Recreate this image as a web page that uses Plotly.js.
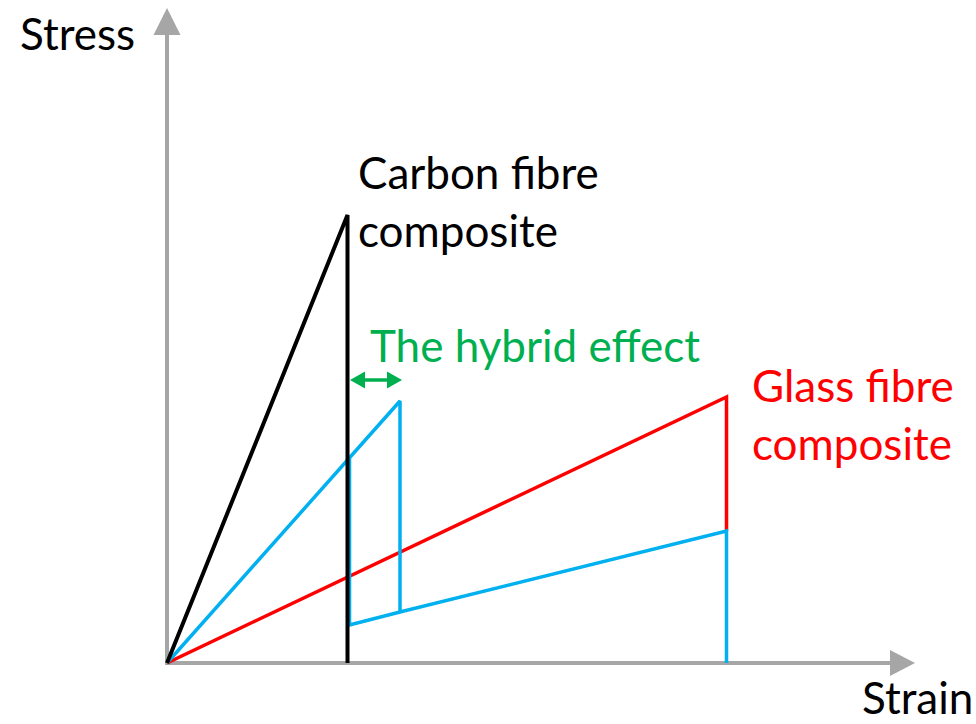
<!DOCTYPE html>
<html>
<head>
<meta charset="utf-8">
<script src="https://cdn.plot.ly/plotly-3.0.1.min.js"></script>
<style>html,body{margin:0;padding:0;background:#fff;}#chart{width:976px;height:724px;}</style>
</head>
<body>
<div id="chart"></div>
<script>
// Schematic stress-strain data (arbitrary units)
var carbonStrain = [0, 1.805, 1.805];
var carbonStress = [0, 4.48, 0];

var glassStrain = [0, 5.595, 5.595];
var glassStress = [0, 2.66, 1.32];

var hybridStrain = [0, 2.33, 2.33, 5.595, 5.595];
var hybridStress = [0, 2.62, 0.51, 1.32, 0];

var hybridRefStrain = [1.825, 1.825, 2.33];
var hybridRefStress = [2.05, 0.38, 0.51];

var labels = {
  yTitle: "Stress",
  xTitle: "Strain",
  carbon: ["Carbon fibre", "composite"],
  glass: ["Glass fibre", "composite"],
  hybrid: "The hybrid effect"
};

var FONT = "Lato, 'Open Sans', sans-serif";
var GRAY = "#A6A6A6";
var BLUE = "#00B0F0";
var RED = "#FF0000";
var GREEN = "#00B050";

var traces = [
  {x: glassStrain, y: glassStress, mode: "lines", line: {color: RED, width: 3.5}, hoverinfo: "skip"},
  {x: hybridStrain, y: hybridStress, mode: "lines", line: {color: BLUE, width: 3.5}, hoverinfo: "skip"},
  {x: hybridRefStrain, y: hybridRefStress, mode: "lines", line: {color: BLUE, width: 3.5}, hoverinfo: "skip"},
  {x: carbonStrain, y: carbonStress, mode: "lines", line: {color: "#000000", width: 4}, hoverinfo: "skip"}
];

function txt(t, x, y, color) {
  return {text: t, x: x, y: y, xref: "x", yref: "y", xanchor: "left", yanchor: "middle",
          showarrow: false, font: {family: FONT, size: 44, color: color}};
}

var layout = {
  width: 976, height: 724,
  margin: {l: 0, r: 0, t: 0, b: 0},
  paper_bgcolor: "#ffffff", plot_bgcolor: "#ffffff",
  showlegend: false,
  xaxis: {range: [-1.67, 8.09], visible: false, fixedrange: true},
  yaxis: {range: [-0.61, 6.63], visible: false, fixedrange: true},
  shapes: [
    {type: "line", xref: "x", yref: "y", x0: 0, y0: -0.02, x1: 0, y1: 6.29, line: {color: GRAY, width: 4}, layer: "below"},
    {type: "path", xref: "x", yref: "y", path: "M -0.135,6.28 L 0.135,6.28 L 0,6.55 Z", fillcolor: GRAY, line: {width: 0}, layer: "below"},
    {type: "line", xref: "x", yref: "y", x0: -0.02, y0: 0, x1: 7.24, y1: 0, line: {color: GRAY, width: 4}, layer: "below"},
    {type: "path", xref: "x", yref: "y", path: "M 7.23,-0.13 L 7.23,0.13 L 7.48,0 Z", fillcolor: GRAY, line: {width: 0}, layer: "below"},
    // green double arrow (hybrid effect)
    {type: "line", xref: "x", yref: "y", x0: 1.94, y0: 2.83, x1: 2.23, y1: 2.83, line: {color: GREEN, width: 3.5}},
    {type: "path", xref: "x", yref: "y", path: "M 1.83,2.83 L 1.98,2.915 L 1.98,2.745 Z", fillcolor: GREEN, line: {width: 0}},
    {type: "path", xref: "x", yref: "y", path: "M 2.35,2.83 L 2.20,2.915 L 2.20,2.745 Z", fillcolor: GREEN, line: {width: 0}}
  ],
  annotations: [
    txt(labels.yTitle, -1.49, 6.30, "#000000"),
    txt(labels.xTitle, 6.93, -0.34, "#000000"),
    txt(labels.carbon[0], 1.89, 4.91, "#000000"),
    txt(labels.carbon[1], 1.89, 4.33, "#000000"),
    txt(labels.hybrid, 2.01, 3.18, GREEN),
    txt(labels.glass[0], 5.83, 2.78, RED),
    txt(labels.glass[1], 5.83, 2.20, RED)
  ]
};

Plotly.newPlot("chart", traces, layout, {staticPlot: true, displayModeBar: false});
</script>
</body>
</html>
